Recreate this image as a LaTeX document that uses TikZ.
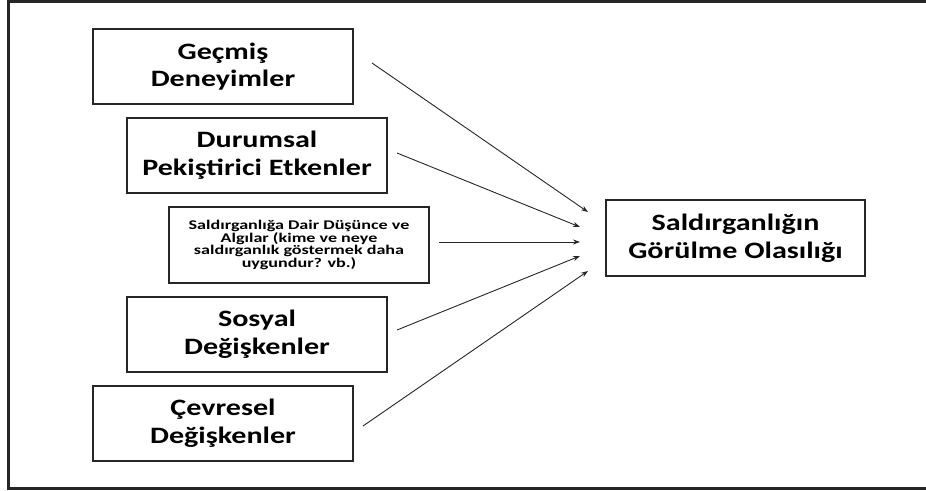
\documentclass[tikz,border=0pt]{standalone}
\usepackage{fontspec}
\usetikzlibrary{arrows.meta}
\newfontfamily\bigf{Carlito}[FakeStretch=1.28]
\newfontfamily\smallf{Carlito}[FakeStretch=1.36]
\tikzset{
  bx/.style={draw=black!85, line width=2pt, minimum width=260pt, minimum height=75pt,
    align=center, inner sep=0pt, font=\bigf\bfseries\fontsize{23.5}{27.7}\selectfont,
    execute at begin node={\rule{0pt}{23pt}}},
  sbx/.style={bx, font=\smallf\bfseries\fontsize{13.3}{12.8}\selectfont,
    execute at begin node={\rule{0pt}{15pt}}},
  arr/.style={draw=black!85, line width=0.9pt, -{Stealth[length=7pt,width=5pt]}},
  frame/.style={draw=black!85, line width=2.6pt}
}
\begin{document}
\begin{tikzpicture}[x=1pt,y=-1pt]
\useasboundingbox (0,0) rectangle (926,490);
\draw[frame] (930,1.3) -- (8.7,1.3) -- (8.7,488.7) -- (930,488.7);
\node[bx] (gec) at (223,66.5) {Geçmiş\\Deneyimler};
\node[bx] (dur) at (257,155.5) {Durumsal\\Pekiştirici Etkenler};
\node[sbx, minimum height=76pt] (dus) at (299,245) {Saldırganlığa Dair Düşünce ve\\Algılar (kime ve neye\\saldırganlık göstermek daha\\uygundur? vb.)};
\node[bx] (sos) at (257,334.5) {Sosyal\\Değişkenler};
\node[bx] (cev) at (223,423.5) {Çevresel\\Değişkenler};
\node[bx, minimum width=259pt, minimum height=76pt] (sal) at (735.5,238) {Saldırganlığın\\Görülme Olasılığı};
\coordinate (s1) at (372,63);
\coordinate (s2) at (397,153);
\coordinate (s3) at (439,242);
\coordinate (s4) at (397,330);
\coordinate (s5) at (363,426);
\coordinate (e1) at (588,212);
\coordinate (e2) at (580,227);
\coordinate (e3) at (580,242);
\coordinate (e4) at (580,256);
\coordinate (e5) at (588,271);
\draw[arr] (s1) -- (e1);
\draw[arr] (s2) -- (e2);
\draw[arr] (s3) -- (e3);
\draw[arr] (s4) -- (e4);
\draw[arr] (s5) -- (e5);
\end{tikzpicture}
\end{document}
